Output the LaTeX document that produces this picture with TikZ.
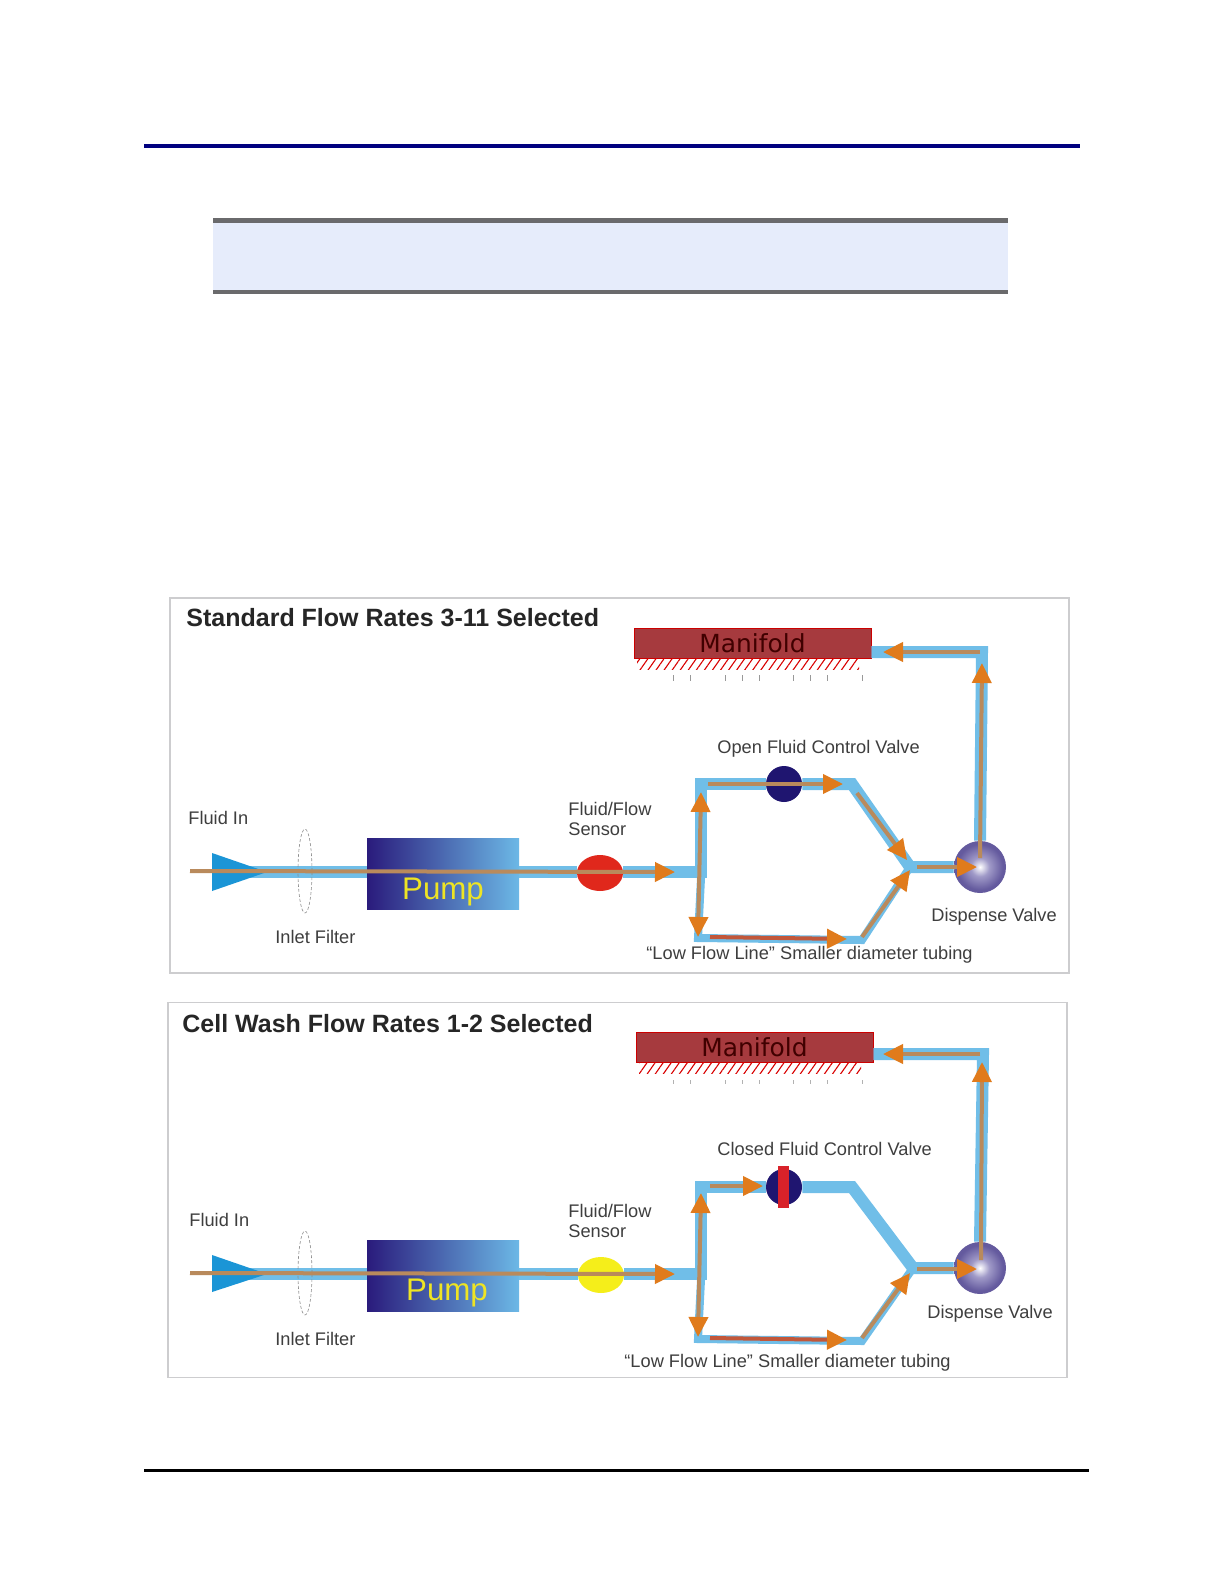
\documentclass[tikz,border=0pt]{standalone}
\usepackage{fontspec}
\setmainfont{Liberation Sans}
\newfontfamily\manifoldfont{DejaVu Sans}
\usetikzlibrary{arrows.meta,shapes.geometric,patterns.meta}
\definecolor{navyrule}{HTML}{00007F}
\definecolor{bannerfill}{HTML}{E6ECFB}
\definecolor{bannerrule}{HTML}{6A6A6C}
\definecolor{framegray}{HTML}{CDCDCF}
\definecolor{pipeblue}{HTML}{70BEE8}
\definecolor{inletblue}{HTML}{1B95D6}
\definecolor{flowline}{HTML}{B98A5C}
\definecolor{flowhead}{HTML}{E07B1C}
\definecolor{lowline}{HTML}{C2573A}
\definecolor{pumpdark}{HTML}{2A1B7C}
\definecolor{pumplight}{HTML}{6CB8E6}
\definecolor{valvenavy}{HTML}{1F1570}
\definecolor{balldark}{HTML}{645A9E}
\definecolor{ballmid}{HTML}{A09AC8}
\definecolor{manifoldred}{HTML}{A63A3E}
\definecolor{labelgray}{HTML}{3E3E3E}
\definecolor{sensorred}{HTML}{E0281C}
\definecolor{sensoryellow}{HTML}{F5EE1A}
\definecolor{gatered}{HTML}{D8222A}
\pgfdeclareradialshading{dispenseball}{\pgfpoint{0bp}{0bp}}{color(0bp)=(white); color(9bp)=(ballmid); color(22bp)=(balldark); color(25bp)=(balldark); color(50bp)=(balldark)}

\begin{document}
\begin{tikzpicture}[
    x=0.5bp,
    y=-0.5bp,
    panelframe/.style={
        rectangle,
        draw=framegray,
        line width=0.6bp,
        fill=white,
        minimum width=449.5bp,
        minimum height=187.5bp,
        inner sep=0pt
    },
    paneltitle/.style={
        anchor=west,
        inner sep=0pt,
        text=black!85,
        font=\fontsize{12.55}{14}\selectfont\bfseries
    },
    partlabel/.style={
        anchor=west,
        inner sep=0pt,
        align=left,
        text=labelgray,
        font=\fontsize{9.15}{10}\selectfont
    },
    manifoldbox/.style={
        rectangle,
        draw=red!80!black,
        line width=0.4bp,
        fill=manifoldred,
        minimum width=118.5bp,
        minimum height=15bp,
        inner sep=0pt,
        text=black!75!red,
        font=\fontsize{12.5}{13}\selectfont\manifoldfont
    },
    manifoldhatch/.style={
        rectangle,
        minimum width=111bp,
        minimum height=5.5bp,
        inner sep=0pt,
        pattern={Lines[angle=55,distance=3.3bp,line width=0.55bp]},
        pattern color=red!85!black
    },
    pumpbox/.style={
        rectangle,
        left color=pumpdark,
        right color=pumplight,
        minimum width=76bp,
        minimum height=35.5bp,
        inner sep=0pt
    },
    pumplabel/.style={
        inner sep=0pt,
        text=yellow!85!gray,
        font=\fontsize{15.7}{17}\selectfont
    },
    sensor/.style={
        ellipse,
        minimum width=23bp,
        minimum height=18bp,
        inner sep=0pt
    },
    filterring/.style={
        ellipse,
        draw=black!45,
        dashed,
        dash pattern=on 1.5bp off 1bp,
        line width=0.3bp,
        minimum width=7bp,
        minimum height=42bp,
        inner sep=0pt
    },
    valvedisc/.style={
        circle,
        fill=valvenavy,
        minimum size=18bp,
        inner sep=0pt
    },
    dispenseball/.style={
        circle,
        shading=dispenseball,
        minimum size=26bp,
        inner sep=0pt
    },
    gatebar/.style={
        rectangle,
        fill=gatered,
        minimum width=5.5bp,
        minimum height=21bp,
        inner sep=0pt
    },
    pipe/.style={draw=pipeblue, line width=6bp, line join=miter},
    thinpipe/.style={draw=pipeblue, line width=4bp, line join=miter},
    flow/.style={
        draw=flowline,
        line width=2bp,
        -{Triangle[length=10bp,width=9.5bp,color=flowhead]}
    },
    lowflow/.style={
        draw=lowline,
        line width=2bp,
        -{Triangle[length=10bp,width=9.5bp,color=flowhead]}
    },
    bothflow/.style={
        draw=flowline,
        line width=2bp,
        {Triangle[length=10bp,width=9.5bp,color=flowhead]}-{Triangle[length=10bp,width=9.5bp,color=flowhead]}
    }
]

\useasboundingbox (0,0) rectangle (1224,1584);

\fill[navyrule] (144,144) rectangle (1080,148);
\fill[bannerfill] (213,218) rectangle (1008,294);
\fill[bannerrule] (213,218) rectangle (1008,223);
\fill[bannerrule] (213,290) rectangle (1008,294);
\fill[black] (144,1469) rectangle (1089,1472);

\node[panelframe] (panelA) at (619.5,785.5) {};
\node[paneltitle] (titleA) at (186,618) {Standard Flow Rates 3-11 Selected};

\coordinate (startA) at (245,872);
\coordinate (tipA) at (267,872);
\coordinate (branchA) at (701,878);
\coordinate (upperA) at (701,784);
\coordinate (crestA) at (852,784);
\coordinate (jointA) at (910,867);
\coordinate (lowerA) at (698,938);
\coordinate (floorA) at (862,940);
\coordinate (riserA) at (982,652);

\node[manifoldbox] (manifoldA) at (752.5,643) {Manifold};
\node[manifoldhatch] (hatchA) at (748,664) {};
\node[pumpbox] (pumpA) at (443,873.5) {};
\node[sensor, fill=sensorred] (sensorA) at (600,873) {};
\node[valvedisc] (valveA) at (784,784) {};
\node[dispenseball] (dispenseA) at (980,867) {};

\draw[pipe] (startA) -- (startA -| pumpA.west);
\draw[pipe] (startA -| pumpA.east) -- (startA -| sensorA.west);
\draw[pipe] (startA -| sensorA.east) -- (startA -| branchA);
\draw[pipe] (branchA) -- (upperA) -- (valveA.west);
\draw[pipe] (valveA.east) -- (crestA) -- (jointA) -- (dispenseA.west);
\draw[pipe] (dispenseA.north) -- (riserA) -- (riserA -| manifoldA.east);
\draw[thinpipe] (branchA) -- (lowerA) -- (floorA) -- (jointA);

\fill[inletblue] (212,853) -- (212,891) -- (tipA) -- cycle;
\node[filterring] (filterA) at (305,871) {};

\foreach \tickx in {673,690,725,742,759,793,810,827,862}
    \draw[black!40, line width=0.35bp] (\tickx,675) -- (\tickx,681);

\coordinate (inA) at (190,871);
\coordinate (inheadA) at (675,872);
\coordinate (uptipA) at (701,792);
\coordinate (downtipA) at (698,937);
\coordinate (crestfromA) at (708,784);
\coordinate (cresttipA) at (843,784);
\coordinate (slopefromA) at (857,793);
\coordinate (slopetipA) at (907,860);
\coordinate (floorfromA) at (710,937);
\coordinate (floortipA) at (847,939);
\coordinate (risefromA) at (862,937);
\coordinate (risetipA) at (910,870);
\coordinate (ballfromA) at (917,867);
\coordinate (balltipA) at (977,867);
\coordinate (stemfromA) at (980,858);
\coordinate (stemtipA) at (982,663);
\coordinate (backfromA) at (980,652);
\coordinate (backtipA) at (883,652);

\draw[flow] (inA) -- (inheadA);
\draw[bothflow] (uptipA) -- (downtipA);
\draw[flow] (crestfromA) -- (cresttipA);
\draw[flow] (slopefromA) -- (slopetipA);
\draw[lowflow] (floorfromA) -- (floortipA);
\draw[flow] (risefromA) -- (risetipA);
\draw[flow] (ballfromA) -- (balltipA);
\draw[flow] (stemfromA) -- (stemtipA);
\draw[flow] (backfromA) -- (backtipA);

\node[pumplabel] (pumptextA) at (443,892) {Pump};
\node[partlabel] (fluidinA) at (188,818) {Fluid In};
\node[partlabel] (inletA) at (275,937) {Inlet Filter};
\node[partlabel] (flowsensorA) at (568,819) {Fluid/Flow\\Sensor};
\node[partlabel] (openA) at (717,749) {Open Fluid Control Valve};
\node[partlabel] (dispensetextA) at (931,917) {Dispense Valve};
\node[partlabel] (lowtextA) at (646,955) {“Low Flow Line” Smaller diameter tubing};

\node[panelframe] (panelB) at (617.5,1190) {};
\node[paneltitle] (titleB) at (182,1024) {Cell Wash Flow Rates 1-2 Selected};

\coordinate (startB) at (245,1274);
\coordinate (tipB) at (267,1274);
\coordinate (branchB) at (701,1280);
\coordinate (upperB) at (701,1187);
\coordinate (crestB) at (852,1187);
\coordinate (jointB) at (913,1268);
\coordinate (lowerB) at (698,1339);
\coordinate (floorB) at (862,1341);
\coordinate (riserB) at (983,1054);

\node[manifoldbox] (manifoldB) at (754.5,1047) {Manifold};
\node[manifoldhatch] (hatchB) at (750,1068) {};
\node[pumpbox] (pumpB) at (443,1275.5) {};
\node[sensor, fill=sensoryellow] (sensorB) at (601,1275) {};
\node[valvedisc] (valveB) at (784,1187) {};
\node[dispenseball] (dispenseB) at (980,1268) {};

\draw[pipe] (startB) -- (startB -| pumpB.west);
\draw[pipe] (startB -| pumpB.east) -- (startB -| sensorB.west);
\draw[pipe] (startB -| sensorB.east) -- (startB -| branchB);
\draw[pipe] (branchB) -- (upperB) -- (valveB.west);
\draw[pipe] (valveB.east) -- (crestB) -- (jointB) -- (dispenseB.west);
\draw[pipe] (dispenseB.north) -- (riserB) -- (riserB -| manifoldB.east);
\draw[thinpipe] (branchB) -- (lowerB) -- (floorB) -- (jointB);

\fill[inletblue] (212,1255) -- (212,1292) -- (tipB) -- cycle;
\node[filterring] (filterB) at (305,1273) {};
\node[gatebar] (gateB) at (783.5,1187) {};

\foreach \tickx in {673,690,725,742,759,793,810,827,862}
    \draw[black!30, line width=0.3bp] (\tickx,1080) -- (\tickx,1084);

\coordinate (inB) at (190,1273);
\coordinate (inheadB) at (675,1274);
\coordinate (uptipB) at (701,1193);
\coordinate (downtipB) at (698,1337);
\coordinate (crestfromB) at (710,1186);
\coordinate (cresttipB) at (763,1186);
\coordinate (floorfromB) at (710,1338);
\coordinate (floortipB) at (847,1340);
\coordinate (risefromB) at (862,1338);
\coordinate (risetipB) at (910,1273);
\coordinate (ballfromB) at (917,1269);
\coordinate (balltipB) at (977,1269);
\coordinate (stemfromB) at (981,1260);
\coordinate (stemtipB) at (982,1062);
\coordinate (backfromB) at (980,1054);
\coordinate (backtipB) at (883,1054);

\draw[flow] (inB) -- (inheadB);
\draw[bothflow] (uptipB) -- (downtipB);
\draw[flow] (crestfromB) -- (cresttipB);
\draw[lowflow] (floorfromB) -- (floortipB);
\draw[flow] (risefromB) -- (risetipB);
\draw[flow] (ballfromB) -- (balltipB);
\draw[flow] (stemfromB) -- (stemtipB);
\draw[flow] (backfromB) -- (backtipB);

\node[pumplabel] (pumptextB) at (447,1293) {Pump};
\node[partlabel] (fluidinB) at (189,1220) {Fluid In};
\node[partlabel] (inletB) at (275,1339) {Inlet Filter};
\node[partlabel] (flowsensorB) at (568,1221) {Fluid/Flow\\Sensor};
\node[partlabel] (closedB) at (717,1149) {Closed Fluid Control Valve};
\node[partlabel] (dispensetextB) at (927,1314) {Dispense Valve};
\node[partlabel] (lowtextB) at (624,1363) {“Low Flow Line” Smaller diameter tubing};

\end{tikzpicture}
\end{document}
